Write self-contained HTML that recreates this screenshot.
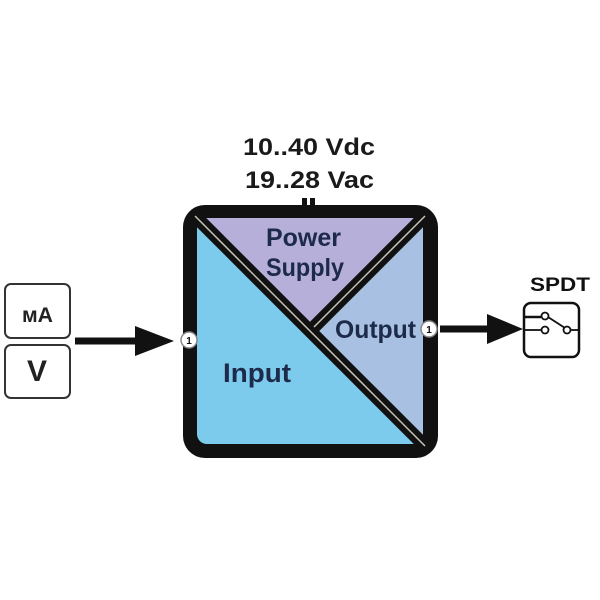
<!DOCTYPE html>
<html><head><style>
html,body{margin:0;padding:0;background:#fff;}
svg{display:block;}
text{font-family:"Liberation Sans",Arial,sans-serif;font-weight:bold;}
</style></head><body>
<svg width="600" height="600" viewBox="0 0 600 600" xmlns="http://www.w3.org/2000/svg">
<rect width="600" height="600" fill="#fff"/>
<text x="243" y="155" font-size="24" textLength="132" lengthAdjust="spacingAndGlyphs" fill="#1a1a1a">10..40 Vdc</text>
<text x="245" y="188" font-size="24" textLength="129" lengthAdjust="spacingAndGlyphs" fill="#1a1a1a">19..28 Vac</text>
<rect x="183" y="205" width="255" height="253" rx="22" fill="#111"/>
<clipPath id="inner"><rect x="197" y="218" width="226" height="226" rx="10"/></clipPath>
<g clip-path="url(#inner)">
  <rect x="197" y="218" width="226" height="226" fill="#7ccbec"/>
  <polygon points="197,218 423,218 310,331" fill="#b6afd9"/>
  <polygon points="423,218 423,444 310,331" fill="#a8c1e2"/>
</g>
<line x1="195" y1="216" x2="425" y2="446" stroke="#111" stroke-width="13"/>
<line x1="425" y1="216" x2="312" y2="329" stroke="#111" stroke-width="13"/>
<line x1="195" y1="216" x2="425" y2="446" stroke="#c9c4b8" stroke-width="1.5"/>
<line x1="425" y1="216" x2="314" y2="327" stroke="#c9c4b8" stroke-width="1.5"/>
<rect x="302" y="198" width="5" height="18" fill="#111"/>
<rect x="310" y="198" width="5" height="18" fill="#111"/>
<text x="266" y="246" font-size="25" textLength="75" lengthAdjust="spacingAndGlyphs" fill="#1d2a4a">Power</text>
<text x="266" y="276" font-size="25" textLength="78" lengthAdjust="spacingAndGlyphs" fill="#1d2a4a">Supply</text>
<text x="335" y="338" font-size="25" textLength="81" lengthAdjust="spacingAndGlyphs" fill="#1d2a4a">Output</text>
<text x="223" y="382" font-size="27" textLength="68" lengthAdjust="spacingAndGlyphs" fill="#1d2a4a">Input</text>
<circle cx="189" cy="340" r="8" fill="#fff" stroke="#888" stroke-width="1.5"/>
<text x="189" y="344" font-size="10" text-anchor="middle" fill="#111">1</text>
<circle cx="429" cy="329" r="8" fill="#fff" stroke="#888" stroke-width="1.5"/>
<text x="429" y="333" font-size="10" text-anchor="middle" fill="#111">1</text>
<rect x="5" y="284" width="65" height="54" rx="6" fill="#fff" stroke="#333" stroke-width="2"/>
<text x="22" y="322" font-size="21" textLength="31" lengthAdjust="spacingAndGlyphs" fill="#222">мA</text>
<rect x="5" y="345" width="65" height="53" rx="6" fill="#fff" stroke="#333" stroke-width="2"/>
<text x="27" y="381" font-size="30" textLength="20" lengthAdjust="spacingAndGlyphs" fill="#222">V</text>
<line x1="75" y1="341" x2="145" y2="341" stroke="#111" stroke-width="7"/>
<polygon points="135,326 174,341 135,356" fill="#111"/>
<line x1="440" y1="329" x2="495" y2="329" stroke="#111" stroke-width="7"/>
<polygon points="487,314 523,329 487,344" fill="#111"/>
<text x="530" y="291" font-size="19" textLength="60" lengthAdjust="spacingAndGlyphs" fill="#111">SPDT</text>
<rect x="524" y="303" width="55" height="54" rx="7" fill="#fff" stroke="#111" stroke-width="2.5"/>
<line x1="525" y1="317" x2="541" y2="317" stroke="#111" stroke-width="2.5"/>
<line x1="525" y1="330" x2="541" y2="330" stroke="#111" stroke-width="1.8"/>
<line x1="571" y1="330" x2="579" y2="330" stroke="#111" stroke-width="1.8"/>
<line x1="548" y1="317" x2="565" y2="328" stroke="#111" stroke-width="1.8"/>
<circle cx="545" cy="316" r="3.5" fill="#fff" stroke="#111" stroke-width="1.8"/>
<circle cx="545" cy="330" r="3.5" fill="#fff" stroke="#111" stroke-width="1.8"/>
<circle cx="567" cy="330" r="3.5" fill="#fff" stroke="#111" stroke-width="1.8"/>
</svg>
</body></html>
